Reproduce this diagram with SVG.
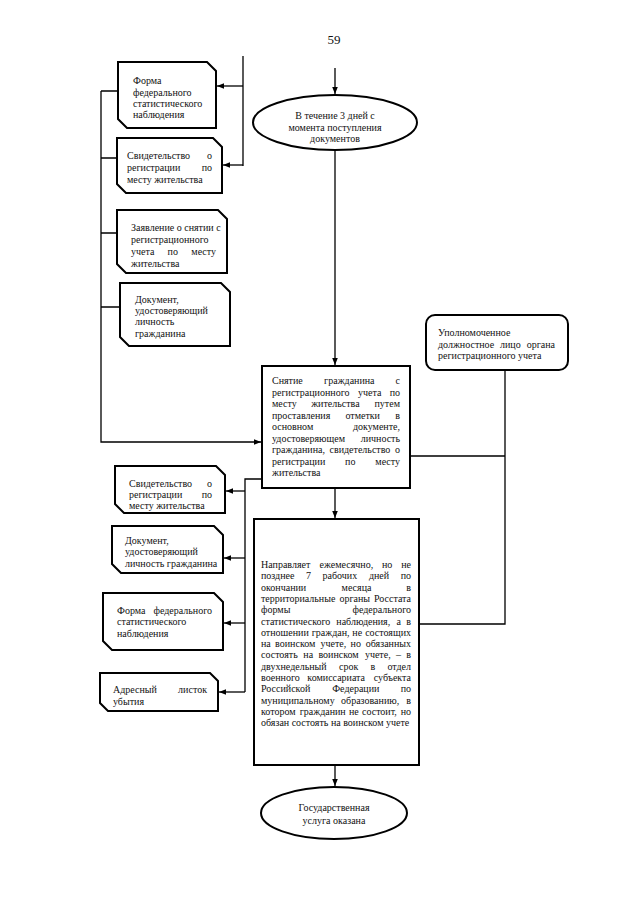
<svg xmlns="http://www.w3.org/2000/svg" width="640" height="905" viewBox="0 0 640 905">
<style>
.t{font-family:"Liberation Serif","Times New Roman",serif;font-size:10px;fill:#111}
.m{text-anchor:middle}
.e{text-anchor:end}
.box{fill:#fff;stroke:#000;stroke-width:2}
.ln{fill:none;stroke:#000;stroke-width:1.3}
</style>
<defs>
<marker id="ah" viewBox="0 0 10 10" refX="10" refY="5" markerWidth="7" markerHeight="7" markerUnits="userSpaceOnUse" orient="auto"><path d="M0,1 L10,5 L0,9 z" fill="#000"/></marker>
</defs>
<rect width="640" height="905" fill="#fff"/>
<text class="t m" x="334" y="44" style="font-size:13px">59</text>

<g id="connectors">
<path class="ln" d="M335,68 V94" marker-end="url(#ah)"/>
<path class="ln" d="M335,150 V365" marker-end="url(#ah)"/>
<path class="ln" d="M101,91 V442 H261" marker-end="url(#ah)"/>
<path class="ln" d="M101,91 H118 M101,158 H117 M101,233 H117 M101,307 H120"/>
<path class="ln" d="M243,56 V166"/>
<path class="ln" d="M243,86 H217" marker-end="url(#ah)"/>
<path class="ln" d="M243,165 H223" marker-end="url(#ah)"/>
<path class="ln" d="M410,456 H505 M505,370 V624 H419"/>
<path class="ln" d="M262,479 H245 V692"/>
<path class="ln" d="M245,491 H226" marker-end="url(#ah)"/>
<path class="ln" d="M245,558 H224" marker-end="url(#ah)"/>
<path class="ln" d="M245,623 H224" marker-end="url(#ah)"/>
<path class="ln" d="M245,692 H219" marker-end="url(#ah)"/>
<path class="ln" d="M335,488 V518" marker-end="url(#ah)"/>
<path class="ln" d="M335,765 V786" marker-end="url(#ah)"/>
</g>

<g id="doc1">
<path class="box" d="M118,62 H207 L216,71 V128 H127 L118,119 Z"/>
<text class="t" x="133" y="84">Форма</text>
<text class="t" x="133" y="96">федерального</text>
<text class="t" x="133" y="107">статистического</text>
<text class="t" x="133" y="118">наблюдения</text>
</g>

<g id="doc2">
<path class="box" d="M117,138 H213 L222,147 V193 H126 L117,184 Z"/>
<text class="t" x="127" y="159">Свидетельство</text><text class="t e" x="212" y="159">о</text>
<text class="t" x="127" y="171">регистрации</text><text class="t e" x="212" y="171">по</text>
<text class="t" x="127" y="183">месту жительства</text>
</g>

<g id="doc3">
<path class="box" d="M117,210 H218 L227,219 V273 H126 L117,264 Z"/>
<text class="t" x="131" y="231">Заявление о снятии с</text>
<text class="t" x="131" y="243">регистрационного</text>
<text class="t" x="131" y="255">учета</text><text class="t" x="167.6" y="255">по</text><text class="t e" x="216" y="255">месту</text>
<text class="t" x="131" y="267">жительства</text>
</g>

<g id="doc4">
<path class="box" d="M120,283 H221 L230,292 V346 H129 L120,337 Z"/>
<text class="t" x="135" y="303">Документ,</text>
<text class="t" x="135" y="314">удостоверяющий</text>
<text class="t" x="135" y="325">личность</text>
<text class="t" x="135" y="337">гражданина</text>
</g>

<g id="start">
<ellipse cx="335" cy="122.5" rx="82" ry="27.5" fill="#fff" stroke="#000" stroke-width="2"/>
<text class="t m" x="335" y="119">В течение 3 дней с</text>
<text class="t m" x="335" y="131">момента поступления</text>
<text class="t m" x="335" y="142">документов</text>
</g>

<g id="official">
<rect class="box" x="426" y="315" width="142" height="55" rx="9"/>
<text class="t" x="438" y="336">Уполномоченное</text>
<text class="t" x="438" y="347.5">должностное</text><text class="t" x="500" y="347.5">лицо</text><text class="t e" x="555" y="347.5">органа</text>
<text class="t" x="438" y="359">регистрационного учета</text>
</g>

<g id="deregister">
<rect class="box" x="262" y="366" width="148" height="122"/>
<text class="t" x="272" y="384">Снятие</text><text class="t" x="324.1" y="384">гражданина</text><text class="t e" x="400" y="384">с</text>
<text class="t" x="272" y="395.5">регистрационного</text><text class="t" x="358" y="395.5">учета</text><text class="t e" x="400" y="395.5">по</text>
<text class="t" x="272" y="407">месту</text><text class="t" x="311.2" y="407">жительства</text><text class="t e" x="400" y="407">путем</text>
<text class="t" x="272" y="418.5">проставления</text><text class="t" x="345.4" y="418.5">отметки</text><text class="t e" x="400" y="418.5">в</text>
<text class="t" x="272" y="430">основном</text><text class="t e" x="400" y="430">документе,</text>
<text class="t" x="272" y="441.5">удостоверяющем</text><text class="t e" x="400" y="441.5">личность</text>
<text class="t" x="272" y="453">гражданина,</text><text class="t" x="329.5" y="453">свидетельство</text><text class="t e" x="400" y="453">о</text>
<text class="t" x="272" y="464.5">регистрации</text><text class="t" x="345.1" y="464.5">по</text><text class="t e" x="400" y="464.5">месту</text>
<text class="t" x="272" y="476">жительства</text>
</g>

<g id="docA">
<path class="box" d="M115,466 H216 L225,475 V513 H124 L115,504 Z"/>
<text class="t" x="129" y="487">Свидетельство</text><text class="t e" x="212" y="487">о</text>
<text class="t" x="129" y="498">регистрации</text><text class="t e" x="212" y="498">по</text>
<text class="t" x="129" y="509">месту жительства</text>
</g>

<g id="docB">
<path class="box" d="M112,526 H214 L223,535 V573 H121 L112,564 Z"/>
<text class="t" x="125" y="544">Документ,</text>
<text class="t" x="125" y="555">удостоверяющий</text>
<text class="t" x="125" y="567">личность гражданина</text>
</g>

<g id="docC">
<path class="box" d="M103,593 H214 L223,602 V650 H112 L103,641 Z"/>
<text class="t" x="117" y="614">Форма</text><text class="t e" x="212" y="614">федерального</text>
<text class="t" x="117" y="625">статистического</text>
<text class="t" x="117" y="637">наблюдения</text>
</g>

<g id="docD">
<path class="box" d="M100,673 H210 L218,681 V711 H108 L100,703 Z"/>
<text class="t" x="113" y="693">Адресный</text><text class="t e" x="207" y="693">листок</text>
<text class="t" x="113" y="705">убытия</text>
</g>

<g id="send">
<rect class="box" x="254" y="519" width="165" height="246"/>
<text class="t" x="261" y="568">Направляет</text><text class="t" x="319.6" y="568">ежемесячно,</text><text class="t" x="382" y="568">но</text><text class="t e" x="411" y="568">не</text>
<text class="t" x="261" y="579.3">позднее</text><text class="t" x="306.1" y="579.3">7</text><text class="t" x="322.5" y="579.3">рабочих</text><text class="t" x="368.9" y="579.3">дней</text><text class="t e" x="411" y="579.3">по</text>
<text class="t" x="261" y="590.6">окончании</text><text class="t" x="341.6" y="590.6">месяца</text><text class="t e" x="411" y="590.6">в</text>
<text class="t" x="261" y="601.9">территориальные</text><text class="t" x="339.4" y="601.9">органы</text><text class="t e" x="411" y="601.9">Росстата</text>
<text class="t" x="261" y="613.2">формы</text><text class="t e" x="411" y="613.2">федерального</text>
<text class="t" x="261" y="624.5">статистического</text><text class="t" x="336.3" y="624.5">наблюдения,</text><text class="t" x="396.5" y="624.5">а</text><text class="t e" x="411" y="624.5">в</text>
<text class="t" x="261" y="635.8">отношении</text><text class="t" x="311.7" y="635.8">граждан,</text><text class="t" x="352.3" y="635.8">не</text><text class="t e" x="411" y="635.8">состоящих</text>
<text class="t" x="261" y="647.1">на</text><text class="t" x="275.1" y="647.1">воинском</text><text class="t" x="320.5" y="647.1">учете,</text><text class="t" x="350.6" y="647.1">но</text><text class="t e" x="411" y="647.1">обязанных</text>
<text class="t" x="261" y="658.4">состоять</text><text class="t" x="303.3" y="658.4">на</text><text class="t" x="318.4" y="658.4">воинском</text><text class="t" x="364.9" y="658.4">учете,</text><text class="t" x="396" y="658.4">–</text><text class="t e" x="411" y="658.4">в</text>
<text class="t" x="261" y="669.7">двухнедельный</text><text class="t" x="339.1" y="669.7">срок</text><text class="t" x="370.4" y="669.7">в</text><text class="t e" x="411" y="669.7">отдел</text>
<text class="t" x="261" y="681">военного</text><text class="t" x="307.3" y="681">комиссариата</text><text class="t e" x="411" y="681">субъекта</text>
<text class="t" x="261" y="692.3">Российской</text><text class="t" x="332.2" y="692.3">Федерации</text><text class="t e" x="411" y="692.3">по</text>
<text class="t" x="261" y="703.6">муниципальному</text><text class="t" x="341.1" y="703.6">образованию,</text><text class="t e" x="411" y="703.6">в</text>
<text class="t" x="261" y="714.9">котором</text><text class="t" x="299.7" y="714.9">гражданин</text><text class="t" x="349" y="714.9">не</text><text class="t" x="362" y="714.9">состоит,</text><text class="t e" x="411" y="714.9">но</text>
<text class="t" x="261" y="726.2">обязан состоять на воинском учете</text>
</g>

<g id="end">
<ellipse cx="334" cy="813" rx="73" ry="26" fill="#fff" stroke="#000" stroke-width="2"/>
<text class="t m" x="334" y="811">Государственная</text>
<text class="t m" x="334" y="824">услуга оказана</text>
</g>
</svg>
